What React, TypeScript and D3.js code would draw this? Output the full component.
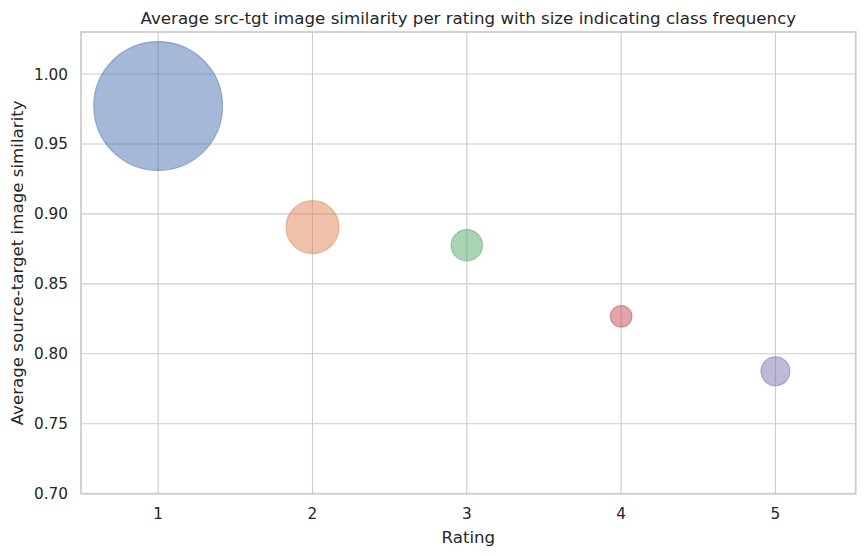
import React from "react";
import * as d3 from "d3";

const ratings = [1, 2, 3, 4, 5];
const avgSimilarity = [0.9771, 0.8905, 0.8776, 0.8268, 0.7875];
const classFrequency = [4150, 700, 246, 117, 210];
const colors = ["#4c72b0", "#dd8452", "#55a868", "#c44e52", "#8172b3"];
const xTicks = [1, 2, 3, 4, 5];
const yTicks = [0.7, 0.75, 0.8, 0.85, 0.9, 0.95, 1.0];

const W = 865;
const H = 556;
const left = 81;
const right = 855.7;
const top = 32;
const bottom = 493.7;
const font = "'DejaVu Sans', sans-serif";
const textColor = "#262626";

export default function App() {
  const x = d3.scaleLinear().domain([0.5, 5.52]).range([left, right]);
  const y = d3.scaleLinear().domain([0.7, 1.03]).range([bottom, top]);
  const r = d3
    .scaleSqrt()
    .domain([0, d3.max(classFrequency) as number])
    .range([0, 64.4]);
  const tickFs = 15.28;
  const labelFs = 16.67;
  return (
    <svg
      width={W}
      height={H}
      style={{ position: "fixed", left: 0, top: 0, background: "#fff" }}
    >
      <rect x={0} y={0} width={W} height={H} fill="#fff" />
      {/* grid */}
      {xTicks.map((t) => (
        <line
          key={"gx" + t}
          x1={x(t)}
          x2={x(t)}
          y1={top}
          y2={bottom}
          stroke="#cccccc"
          strokeWidth={1.1}
        />
      ))}
      {yTicks.map((t) => (
        <line
          key={"gy" + t}
          x1={left}
          x2={right}
          y1={y(t)}
          y2={y(t)}
          stroke="#cccccc"
          strokeWidth={1.1}
        />
      ))}
      {/* bubbles */}
      {ratings.map((rt, i) => (
        <circle
          key={"c" + rt}
          cx={x(rt)}
          cy={y(avgSimilarity[i])}
          r={r(classFrequency[i])}
          fill={colors[i]}
          fillOpacity={0.5}
          stroke={colors[i]}
          strokeOpacity={0.5}
          strokeWidth={1.2}
        />
      ))}
      {/* spines */}
      <rect
        x={left}
        y={top}
        width={right - left}
        height={bottom - top}
        fill="none"
        stroke="#cccccc"
        strokeWidth={1.75}
      />
      {/* tick labels */}
      {xTicks.map((t) => (
        <text
          key={"tx" + t}
          x={x(t)}
          y={519.3}
          textAnchor="middle"
          fontFamily={font}
          fontSize={tickFs}
          fill={textColor}
        >
          {t}
        </text>
      ))}
      {yTicks.map((t) => (
        <text
          key={"ty" + t}
          x={68}
          y={y(t) + tickFs * 0.3645}
          textAnchor="end"
          fontFamily={font}
          fontSize={tickFs}
          fill={textColor}
        >
          {d3.format(".2f")(t)}
        </text>
      ))}
      {/* axis labels */}
      <text
        x={(left + right) / 2}
        y={542.5}
        textAnchor="middle"
        fontFamily={font}
        fontSize={labelFs}
        fill={textColor}
      >
        Rating
      </text>
      <text
        transform={`translate(23.3, ${(top + bottom) / 2}) rotate(-90)`}
        textAnchor="middle"
        fontFamily={font}
        fontSize={labelFs}
        fill={textColor}
      >
        Average source-target image similarity
      </text>
      {/* title */}
      <text
        x={(left + right) / 2}
        y={23.5}
        textAnchor="middle"
        fontFamily={font}
        fontSize={labelFs}
        fill={textColor}
      >
        Average src-tgt image similarity per rating with size indicating class frequency
      </text>
    </svg>
  );
}
